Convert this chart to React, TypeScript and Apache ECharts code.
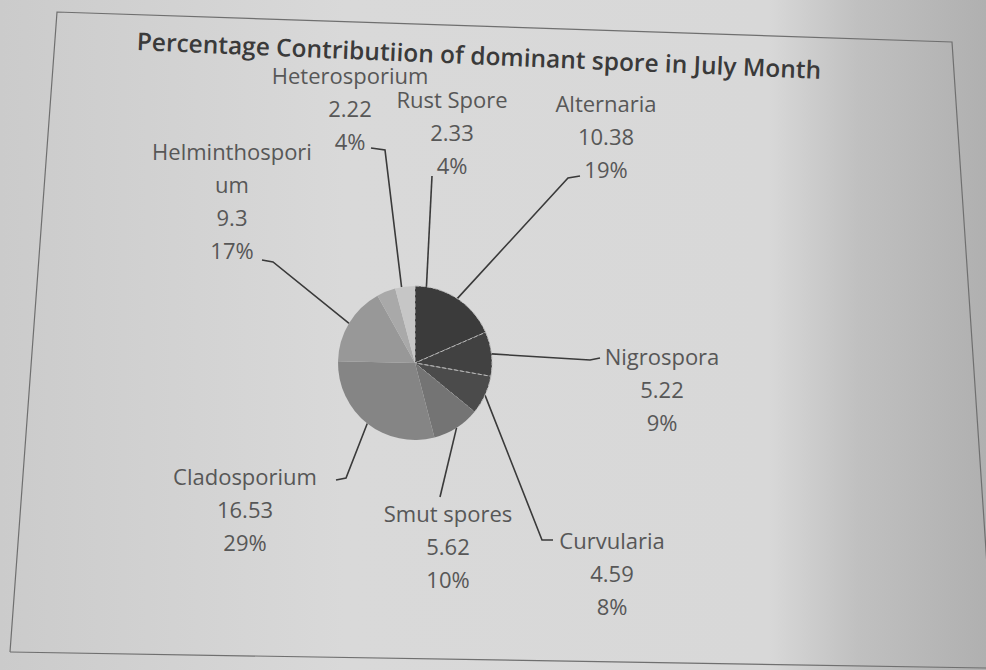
import React, { useEffect, useRef } from "react";
import * as echarts from "echarts";

const titleText = "Percentage Contributiion of dominant spore in July Month";
const categories = [
  "Alternaria",
  "Nigrospora",
  "Curvularia",
  "Smut spores",
  "Cladosporium",
  "Helminthosporium",
  "Heterosporium",
  "Rust Spore",
];
const labelNames = [
  "Alternaria",
  "Nigrospora",
  "Curvularia",
  "Smut spores",
  "Cladosporium",
  "Helminthospori\num",
  "Heterosporium",
  "Rust Spore",
];
const values = [10.38, 5.22, 4.59, 5.62, 16.53, 9.3, 2.22, 2.33];
const percents = ["19%", "9%", "8%", "10%", "29%", "17%", "4%", "4%"];
const sliceColors = ["#3b3b3b", "#414141", "#4b4b4b", "#747474", "#858585", "#989898", "#a9a9a9", "#c6c6c6"];
const borderTypes = ["dashed", "dashed", "dashed", "solid", "solid", "solid", "solid", "solid"];

// label block centres (layout only)
const labelPos: [number, number][] = [
  [606, 136],
  [662, 389],
  [612, 573],
  [448, 546],
  [245, 509],
  [232, 200],
  [350, 108],
  [452, 132],
];
// leader-line bends near the labels (layout only)
const leaderEnds: [number, number][][] = [
  [[568, 178], [580, 176]],
  [[590, 360], [600, 358]],
  [[542, 540], [553, 540]],
  [[440, 497], [440, 497]],
  [[346, 478], [336, 480]],
  [[273, 262], [262, 260]],
  [[385, 150], [371, 148]],
  [[432, 176], [432, 176]],
];
// angular nudge (deg, clockwise) of the leader anchor on the pie rim
const anchorShift = [0, 0, 0, 0, 0, 0, 12, 16];
const pieCenter = [415, 363];

export default function App() {
  const ref = useRef<HTMLDivElement>(null);
  useEffect(() => {
    if (!ref.current) return;
    const chart = echarts.init(ref.current, undefined, { renderer: "svg" });
    chart.setOption({
      animation: false,
      backgroundColor: {
        type: "linear",
        x: 0,
        y: 0,
        x2: 1,
        y2: 0,
        colorStops: [
          { offset: 0, color: "#cbcbcb" },
          { offset: 0.35, color: "#d9d9d9" },
          { offset: 0.78, color: "#d8d8d8" },
          { offset: 0.87, color: "#c0c0c0" },
          { offset: 1, color: "#b0b0b0" },
        ],
      },
      graphic: [
        {
          type: "polyline",
          shape: { points: [[10, 652], [57, 12], [952, 42], [992, 640]] },
          style: { stroke: "#6f6f6f", lineWidth: 1.2, fill: "none" },
          silent: true,
        },
        {
          type: "line",
          shape: { x1: 10, y1: 652, x2: 986, y2: 668 },
          style: { stroke: "#6f6f6f", lineWidth: 1.2 },
          silent: true,
        },
        {
          type: "text",
          x: 479,
          y: 55,
          rotation: -0.042,
          style: {
            text: titleText,
            fontFamily: "Open Sans",
            fontSize: 24.5,
            fontWeight: 600,
            fill: "#3a3a3a",
            align: "center",
            verticalAlign: "middle",
          },
        },
      ],
      series: [
        {
          type: "pie",
          center: pieCenter,
          radius: 77,
          startAngle: 90,
          clockwise: true,
          data: categories.map((name, i) => ({
            name,
            value: values[i],
            itemStyle: {
              color: sliceColors[i],
              borderColor: i < 3 ? "#b8b8b8" : sliceColors[i],
              borderType: borderTypes[i],
              borderWidth: i < 3 ? 1 : 0,
            },
          })),
          label: {
            show: true,
            formatter: (p: any) =>
              labelNames[p.dataIndex] + "\n" + values[p.dataIndex] + "\n" + percents[p.dataIndex],
            fontFamily: "Open Sans",
            fontSize: 22,
            lineHeight: 33,
            color: "#575757",
            align: "center",
          },
          labelLine: {
            show: true,
            length: 20,
            length2: 10,
            lineStyle: { color: "#3a3a3a", width: 1.6 },
          },
          labelLayout: (params: any) => {
            const i = params.dataIndex;
            const p = labelPos[i];
            let start =
              params.labelLinePoints && params.labelLinePoints[0]
                ? params.labelLinePoints[0]
                : pieCenter;
            const th = (anchorShift[i] * Math.PI) / 180;
            if (th !== 0) {
              const dx = start[0] - pieCenter[0];
              const dy = start[1] - pieCenter[1];
              start = [
                pieCenter[0] + dx * Math.cos(th) - dy * Math.sin(th),
                pieCenter[1] + dx * Math.sin(th) + dy * Math.cos(th),
              ];
            }
            return {
              x: p[0],
              y: p[1],
              align: "center",
              verticalAlign: "middle",
              labelLinePoints: [start, leaderEnds[i][0], leaderEnds[i][1]],
            };
          },
          emphasis: { disabled: true },
        },
      ],
    });
    return () => chart.dispose();
  }, []);
  return <div ref={ref} style={{ position: "fixed", left: 0, top: 0, width: 986, height: 670 }} />;
}
